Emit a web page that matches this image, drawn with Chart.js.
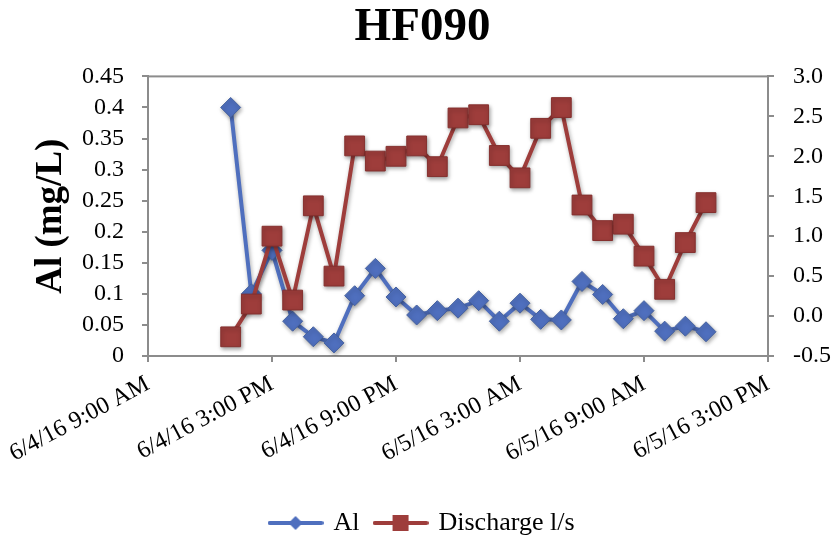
<!DOCTYPE html>
<html>
<head>
<meta charset="utf-8">
<script src="https://cdn.jsdelivr.net/npm/chart.js@4.4.1/dist/chart.umd.min.js"></script>
<style>
  html, body { margin: 0; padding: 0; background: #fff; }
</style>
</head>
<body>
<canvas id="hfChart" width="835" height="541"></canvas>
<script>
// hours after 6/4/16 9:00 AM, one sample per hour (1 PM on 6/4 to noon on 6/5)
const hours = [4, 5, 6, 7, 8, 9, 10, 11, 12, 13, 14, 15, 16, 17, 18, 19, 20, 21, 22, 23, 24, 25, 26, 27];
const alValues = [0.40, 0.10, 0.17, 0.056, 0.031, 0.021, 0.097, 0.141, 0.095, 0.066, 0.073, 0.077,
                  0.089, 0.056, 0.085, 0.059, 0.058, 0.12, 0.099, 0.060, 0.073, 0.040, 0.048, 0.039];
const dischargeValues = [-0.26, 0.15, 1.0, 0.2, 1.38, 0.5, 2.13, 1.94, 2.0, 2.13, 1.87, 2.48,
                         2.52, 2.01, 1.73, 2.35, 2.61, 1.39, 1.07, 1.15, 0.75, 0.335, 0.92, 1.42];
const timeTickLabels = ['6/4/16 9:00 AM', '6/4/16 3:00 PM', '6/4/16 9:00 PM',
                        '6/5/16 3:00 AM', '6/5/16 9:00 AM', '6/5/16 3:00 PM'];

const BLUE = '#4f6fbe';
const RED = '#9e3d3b';
const AXIS = '#8c8c8c';

Chart.defaults.font.family = "'Liberation Serif', 'DejaVu Serif', serif";
Chart.defaults.color = '#000';

// little legend swatch: line with the marker in the middle
function legendSwatch(color, shape) {
    const c = document.createElement('canvas');
    c.width = 56; c.height = 22;
    const g = c.getContext('2d');
    g.strokeStyle = color;
    g.lineWidth = 4;
    g.lineCap = 'round';
    g.beginPath(); g.moveTo(2, 11); g.lineTo(54, 11); g.stroke();
    g.fillStyle = color;
    g.beginPath();
    if (shape === 'diamond') {
        g.moveTo(28, 4); g.lineTo(35, 11); g.lineTo(28, 18); g.lineTo(21, 11);
    } else {
        g.rect(20, 3, 16, 16);
    }
    g.closePath(); g.fill();
    return c;
}

const toPoints = (vals) => vals.map((v, i) => ({ x: hours[i], y: v }));

// grey frame round the plot area + soft shadows like the original
const framePlugin = {
    id: 'frame',
    beforeDatasetsDraw(chart) {
        const { ctx, chartArea: a } = chart;
        ctx.save();
        ctx.strokeStyle = AXIS;
        ctx.lineWidth = 2;
        ctx.strokeRect(a.left, a.top, a.right - a.left, a.bottom - a.top);
        ctx.restore();
    },
    beforeDatasetDraw(chart) {
        const ctx = chart.ctx;
        ctx.save();
        ctx.shadowColor = 'rgba(0,0,0,0.35)';
        ctx.shadowBlur = 4;
        ctx.shadowOffsetX = 1;
        ctx.shadowOffsetY = 2;
    },
    afterDatasetDraw(chart) {
        chart.ctx.restore();
    }
};

const ctx = document.getElementById('hfChart').getContext('2d');
new Chart(ctx, {
    type: 'line',
    data: {
        datasets: [{
            label: 'Al',
            data: toPoints(alValues),
            yAxisID: 'yAl',
            borderColor: BLUE,
            backgroundColor: BLUE,
            borderWidth: 4,
            pointStyle: 'rectRot',
            pointRadius: 10,
            pointBackgroundColor: BLUE,
            pointBorderColor: '#46629f',
            pointBorderWidth: 1,
            tension: 0,
            order: 2
        }, {
            label: 'Discharge l/s',
            data: toPoints(dischargeValues),
            yAxisID: 'yQ',
            borderColor: RED,
            backgroundColor: RED,
            borderWidth: 4,
            pointStyle: 'rect',
            pointRadius: 14,
            pointBackgroundColor: RED,
            pointBorderColor: '#85302e',
            pointBorderWidth: 1,
            tension: 0,
            order: 1
        }]
    },
    options: {
        responsive: false,
        animation: false,
        layout: { padding: { left: 10, right: 0, top: 0, bottom: -5 } },
        plugins: {
            title: {
                display: true,
                text: 'HF090',
                font: { size: 47, weight: 'bold' },
                padding: { top: 0, bottom: 20 }
            },
            legend: {
                position: 'bottom',
                labels: {
                    usePointStyle: true,
                    pointStyleWidth: 50,
                    padding: 16,
                    font: { size: 26 },
                    generateLabels: () => [
                        { text: 'Al', pointStyle: legendSwatch(BLUE, 'diamond'), lineWidth: 0, datasetIndex: 0, fontColor: '#000' },
                        { text: 'Discharge l/s', pointStyle: legendSwatch(RED, 'square'), lineWidth: 0, datasetIndex: 1, fontColor: '#000' }
                    ]
                }
            },
            tooltip: { enabled: false }
        },
        scales: {
            x: {
                type: 'linear',
                min: 0,
                max: 30,
                afterFit: (s) => { s.height = 138; },
                border: { color: AXIS, width: 2 },
                grid: { drawOnChartArea: false, color: AXIS, lineWidth: 2, tickLength: 6 },
                ticks: {
                    stepSize: 6,
                    autoSkip: false,
                    minRotation: 28,
                    maxRotation: 28,
                    padding: 8,
                    font: { size: 24 },
                    callback: (v) => timeTickLabels[Math.round(v / 6)]
                }
            },
            yAl: {
                position: 'left',
                min: 0,
                max: 0.45,
                afterFit: (s) => { s.width = 138; },
                border: { color: AXIS, width: 2 },
                grid: { drawOnChartArea: false, color: AXIS, lineWidth: 2, tickLength: 6 },
                ticks: {
                    stepSize: 0.05,
                    autoSkip: false,
                    padding: 18,
                    font: { size: 24 },
                    callback: (v) => String(+v.toFixed(2))
                },
                title: {
                    display: true,
                    text: 'Al (mg/L)',
                    font: { size: 37, weight: 'bold' },
                    padding: { top: 19, bottom: 0 }
                }
            },
            yQ: {
                position: 'right',
                min: -0.5,
                max: 3.0,
                afterFit: (s) => { s.width = 67; },
                border: { color: AXIS, width: 2 },
                grid: { drawOnChartArea: false, color: AXIS, lineWidth: 2, tickLength: 6 },
                ticks: {
                    stepSize: 0.5,
                    autoSkip: false,
                    padding: 19,
                    font: { size: 24 },
                    callback: (v) => v.toFixed(1)
                }
            }
        }
    },
    plugins: [framePlugin]
});
</script>
</body>
</html>
